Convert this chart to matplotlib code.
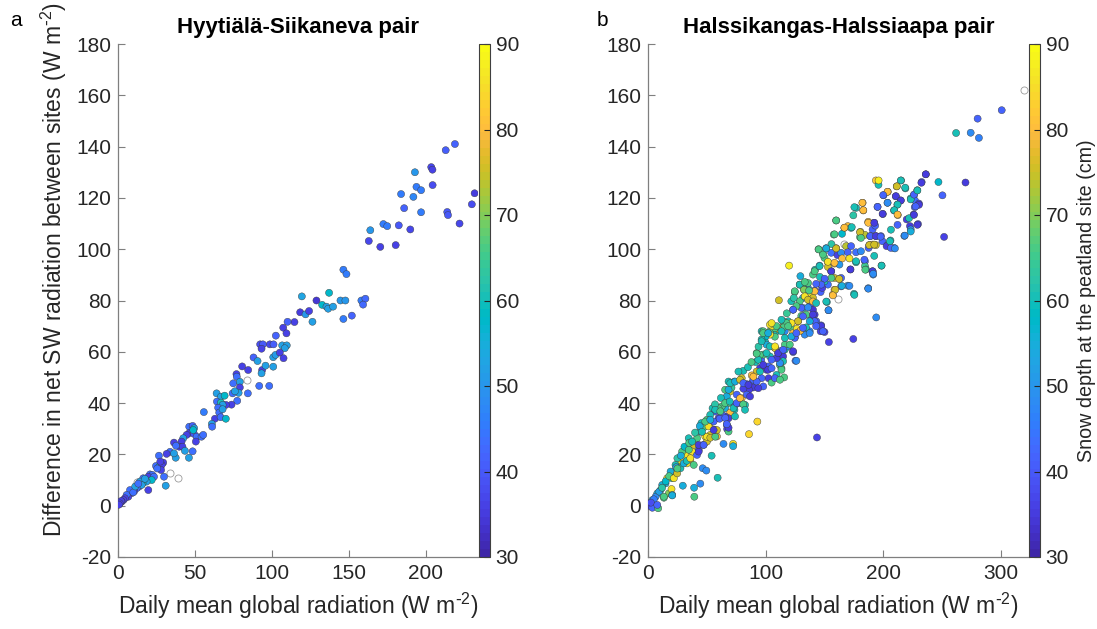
import numpy as np
import matplotlib
matplotlib.use("Agg")
import matplotlib.pyplot as plt
from matplotlib.colors import ListedColormap

plt.rcParams['font.family'] = ['Liberation Sans', 'DejaVu Sans']
plt.rcParams['axes.unicode_minus'] = False
plt.rcParams['mathtext.default'] = 'regular'

# parula-like colormap
parula = ListedColormap([
    [0.2422, 0.1504, 0.6603], [0.2504, 0.1650, 0.7076], [0.2578, 0.1818, 0.7511],
    [0.2647, 0.1978, 0.7952], [0.2706, 0.2147, 0.8364], [0.2751, 0.2342, 0.8710],
    [0.2783, 0.2559, 0.8991], [0.2803, 0.2782, 0.9221], [0.2813, 0.3006, 0.9414],
    [0.2810, 0.3228, 0.9579], [0.2795, 0.3447, 0.9717], [0.2760, 0.3667, 0.9829],
    [0.2699, 0.3892, 0.9906], [0.2602, 0.4123, 0.9952], [0.2440, 0.4358, 0.9988],
    [0.2206, 0.4603, 0.9973], [0.1963, 0.4847, 0.9892], [0.1834, 0.5074, 0.9798],
    [0.1786, 0.5289, 0.9682], [0.1764, 0.5499, 0.9520], [0.1687, 0.5703, 0.9359],
    [0.1540, 0.5902, 0.9218], [0.1460, 0.6091, 0.9079], [0.1380, 0.6276, 0.8973],
    [0.1248, 0.6459, 0.8883], [0.1113, 0.6635, 0.8763], [0.0952, 0.6798, 0.8598],
    [0.0689, 0.6948, 0.8394], [0.0297, 0.7082, 0.8163], [0.0036, 0.7203, 0.7917],
    [0.0067, 0.7312, 0.7660], [0.0433, 0.7411, 0.7394], [0.0964, 0.7500, 0.7120],
    [0.1408, 0.7584, 0.6842], [0.1717, 0.7670, 0.6554], [0.1938, 0.7758, 0.6251],
    [0.2161, 0.7843, 0.5923], [0.2470, 0.7918, 0.5567], [0.2906, 0.7973, 0.5188],
    [0.3406, 0.8008, 0.4789], [0.3909, 0.8029, 0.4354], [0.4456, 0.8024, 0.3909],
    [0.5044, 0.7993, 0.3480], [0.5616, 0.7942, 0.3045], [0.6174, 0.7876, 0.2612],
    [0.6720, 0.7793, 0.2227], [0.7242, 0.7698, 0.1910], [0.7738, 0.7598, 0.1646],
    [0.8203, 0.7498, 0.1535], [0.8634, 0.7406, 0.1596], [0.9035, 0.7330, 0.1774],
    [0.9393, 0.7288, 0.2100], [0.9728, 0.7298, 0.2394], [0.9956, 0.7434, 0.2371],
    [0.9970, 0.7659, 0.2199], [0.9952, 0.7893, 0.2028], [0.9892, 0.8136, 0.1885],
    [0.9786, 0.8386, 0.1766], [0.9676, 0.8639, 0.1643], [0.9610, 0.8890, 0.1537],
    [0.9597, 0.9135, 0.1423], [0.9628, 0.9373, 0.1265], [0.9691, 0.9606, 0.1064],
    [0.9769, 0.9839, 0.0805]])

# ---- panel a: Hyytiala-Siikaneva (x, y, snow depth) ----
hs_x = [219, 213, 203.6, 204.4, 193, 194, 197, 184, 192, 204.5, 231.8, 230, 186, 197, 214, 214.5, 222,
        164, 172.5, 175, 182.5, 190, 163, 170.5, 180.5, 146.5, 148.5, 137.2, 119.5, 129, 132.7, 135.5,
        136.6, 139.8, 144.6, 147.8, 146.5, 152, 158.2, 160.8, 159.3, 118.4, 121.9, 124.2, 126.4, 114.7,
        110.2, 107.4, 109.5, 102.6, 92.4, 94.2, 98.7, 101.1, 93.3, 106.7, 109.7, 108.4, 100.9, 102.4,
        105.2, 107.6, 88.1, 90.7, 80.7, 84.6, 77, 77.2, 93.7, 93.3, 95.9, 100.9, 74.9, 79.2, 79.2, 78.4,
        77.5, 84.4, 91.8, 98.3, 74.5, 76, 73.8, 70.1, 64.1, 66.9, 69.3, 64.3, 66.9, 68, 65.1, 65.8, 68,
        63, 66.7, 70.1, 61, 61.2, 55.8, 46.3, 48.5, 49.5, 46.3, 49.4, 48.9, 51.1, 50.6, 54.3, 55.4, 44.6,
        42.4, 41.3, 39.8, 41.9, 36.4, 37.7, 37.5, 33.8, 36.4, 43.5, 48.5, 46.1, 31.6, 29.4, 26.6, 24.7,
        26.8, 28.4, 28, 29.9, 31, 20.8, 22.3, 19.7, 23.4, 21.9, 16.4, 18.6, 16, 14.3, 13.6, 15.4, 19.7,
        12.1, 10.6, 8.9, 7.8, 6.7, 5.6, 4.5, 3.5, 2.4, 2, 9.9, 17.5, 25.5, 27.5, 11.2, 13.2, 1.2, 0.6]
hs_y = [141, 138.6, 132, 131, 130, 124.3, 123, 121.5, 120.4, 125, 121.8, 117.5, 116, 114.4, 114.5, 113.3, 110,
        107.4, 109.8, 109, 109.3, 107.7, 103.2, 100.9, 101.6, 92, 90.3, 83, 81.6, 80, 78.3, 77.6,
        76.8, 77.6, 80, 80, 72.8, 74.1, 80, 80.7, 78.4, 75.4, 74.6, 75.9, 71.7, 71.6,
        71.7, 69.4, 67.2, 66.3, 62.9, 62.9, 62.9, 62.9, 61.2, 62.5, 62.5, 61.4, 57.9, 58.8,
        59.7, 57.5, 57.8, 56.4, 54.3, 52.9, 51.3, 50.3, 52.9, 51.6, 54.6, 54.2, 47.7, 48.3, 46.1, 44,
        40.9, 43.8, 46.7, 46.7, 43.8, 44.6, 39.4, 39.3, 43.8, 42.5, 42.9, 40.6, 40.2, 39.3, 38.2, 36.3, 37.6,
        33.9, 34.5, 33.9, 31.9, 30.8, 36.5, 30.8, 31.1, 30.2, 28.3, 28, 29.5, 26.9, 25, 26.9, 27.6, 27.6,
        26.3, 25, 23, 23, 24.6, 23.4, 18.7, 21, 20.4, 21.4, 21.2, 18.7, 20.2, 16.8, 19.5, 15.5,
        15.2, 15.9, 13.9, 11.3, 7.8, 12.2, 12, 11.3, 11.3, 10, 10.7, 9.4, 8.7, 9.4, 7.4, 8.1, 6.1,
        6.8, 5.7, 4.9, 6.1, 3.5, 4.2, 2.9, 2.2, 1.6, 1.8, 5.2, 10.5, 14.5, 17.2, 7.5, 8.6, 0.9, 0.4]
hs_snow = [42, 41, 37, 36, 50, 45, 45, 45, 47, 38, 35, 38, 42, 45, 40, 40, 37,
           50, 45, 45, 40, 37, 37, 36, 36, 45, 45, 58, 53, 34, 58, 52,
           52, 52, 50, 50, 45, 42, 45, 43, 43, 35, 50, 36, 52, 36,
           42, 36, 36, 42, 38, 40, 37, 41, 36, 52, 52, 52, 52, 51,
           36, 36, 42, 52, 36, 36, 36, 44, 36, 52, 52, 52, 44, 52, 36, 52,
           44, 44, 44, 44, 44, 52, 36, 36, 52, 52, 58, 44, 60, 52, 44, 44, 52,
           36, 44, 58, 52, 44, 45, 44, 42, 52, 36, 40, 58, 44, 36, 44, 44, 36,
           52, 36, 36, 36, 36, 44, 52, 44, 52, 52, 44, 52, 36, 36, 44, 44,
           58, 36, 36, 44, 52, 44, 44, 36, 44, 58, 44, 52, 58, 52, 44, 52, 36,
           44, 36, 36, 44, 36, 44, 36, 36, 36, 36, 44, 52, 44, 36, 52, 44, 36, 36]
# days without snow-depth record (hollow markers)
hs_nan_x = [33.8, 39.2, 83.6, 12.5]
hs_nan_y = [12.6, 10.8, 49.0, 9.1]

# ---- panel b: Halssikangas-Halssiaapa (x, y, snow depth) ----
ha_pts = [
    (300.8, 154.2, 42), (280.3, 150.9, 42), (262, 145.3, 60), (274.4, 145.4, 48), (281.4, 143.4, 46),
    (236.3, 129.2, 40), (232.7, 126.2, 42), (247, 126.2, 58), (270, 126, 35), (250.4, 121, 42),
    (251.8, 104.8, 36), (193.8, 126.8, 82), (196, 125.1, 60), (215.2, 126.8, 60), (211.5, 124.5, 75),
    (218.9, 123.7, 60), (203.9, 122.4, 80), (229, 123, 62), (200.3, 121, 42), (210.7, 120.6, 40),
    (214.9, 119, 36), (203.7, 118.1, 48), (212.1, 117.4, 60), (223.4, 119.8, 60), (226.2, 121.1, 48),
    (227, 119, 44), (230.4, 117.8, 37), (226.8, 116.4, 42), (195.2, 116.5, 42), (182.5, 118.1, 80),
    (183.1, 115.1, 78), (176.9, 116.1, 60), (174.6, 113.2, 62), (199.7, 113.7, 40), (209.2, 115.1, 60),
    (212.4, 113.3, 78), (225.9, 113.5, 36), (220, 111.6, 36), (222.8, 109, 35), (223.4, 107.7, 48),
    (229.6, 109.8, 38), (218, 105.2, 48), (160, 111.2, 65), (187.3, 110.7, 78), (192.4, 110.3, 36),
    (167, 108.3, 80), (169.9, 109, 78), (172.7, 108.3, 60), (191, 107.7, 42), (193.2, 109.2, 42),
    (180.6, 106.8, 74), (184.5, 105.6, 74), (180.3, 104.7, 66), (189, 105.1, 44), (193.8, 105.1, 37),
    (198.1, 105.1, 42), (199.4, 103.1, 42), (206.2, 103.4, 60), (203.7, 101.6, 42), (209.3, 100.5, 45),
    (188.2, 101.6, 76), (191, 101.8, 78), (193.8, 101.6, 75), (192.4, 97.4, 60), (187.6, 100.5, 42),
    (158, 105.7, 66), (168.5, 101.2, 74), (160, 100.4, 78), (145, 100, 66), (151.5, 100.4, 48),
    (148.7, 98.6, 66), (150.1, 96.6, 66), (155.8, 98.6, 44), (161.1, 97.7, 36), (164.2, 98.6, 48),
    (172.7, 101.2, 42), (169.9, 98.8, 42), (176.9, 98.8, 44), (181.1, 99.2, 48), (165.1, 96.4, 80),
    (171.3, 96.4, 86), (176.9, 94.9, 60), (184.5, 95.3, 42), (153, 94.9, 80), (158.6, 94.4, 80),
    (162.8, 94, 50), (155.8, 91.4, 34), (153, 93.1, 75), (145.9, 93.6, 48), (140.3, 90.1, 66),
    (146.2, 89.2, 60), (129.6, 89.5, 55), (120, 93.6, 88), (172.1, 92.1, 34), (184.5, 93.4, 65),
    (185.4, 92.1, 60), (191, 91.4, 44), (191.5, 90.1, 48), (198.6, 93.6, 58), (187.3, 84.8, 48),
    (194.1, 73.4, 48), (174.6, 65, 36), (153.8, 63.8, 36), (143.7, 26.6, 36), (175.2, 82.6, 60),
    (169.9, 85.8, 50), (164.2, 85.5, 44), (153, 86.2, 44), (150.1, 87.5, 60), (158.6, 88.8, 75),
    (162.8, 88.4, 75), (158.6, 84.2, 80), (157.2, 82.3, 80), (152.1, 79.4, 60), (153.5, 76.2, 44),
    (141.7, 83.9, 42), (146.8, 83.3, 42), (148.2, 84.9, 36), (136, 84.9, 48), (132.7, 84.2, 80),
    (131.8, 86.2, 60), (129, 86.2, 66), (124.8, 83.3, 66), (138.9, 82.6, 86), (140.3, 81, 75),
    (137.5, 79.7, 75), (131.8, 81, 55), (129, 79.7, 66), (121.9, 79.7, 60), (111.3, 80.1, 75),
    (123.4, 76.4, 42), (131.8, 77.1, 55), (137.5, 77.7, 42), (140.3, 76.4, 34), (141.7, 74.5, 35),
    (138.9, 72.5, 35), (143.1, 71.9, 42), (147.3, 70.3, 42), (150.1, 67.7, 36), (146.8, 68, 36),
    (137.5, 68, 48), (131.8, 68, 75), (127.6, 71.9, 80), (130.4, 74, 66), (134.6, 74.5, 66),
    (126.2, 68, 55), (124.8, 65.6, 42), (119.2, 71.9, 60), (122, 69.3, 66), (114.9, 71.9, 66),
    (113.5, 69.3, 75), (116.3, 68, 48), (109.3, 68, 60), (105.1, 70.6, 66), (103.7, 68, 68),
    (107.9, 65.9, 66), (103.7, 66.7, 86), (99.4, 64.1, 60), (96.6, 68, 60), (107.9, 61.5, 80),
    (112.1, 60.2, 42), (116.3, 60.8, 60), (119.2, 62.1, 48), (123.4, 59.9, 42), (125.4, 56.5, 44),
    (114.9, 58.2, 35), (110.7, 59.5, 35), (114.9, 56.3, 60), (112.1, 54.9, 66), (113.5, 53.6, 66),
    (115.8, 50, 66), (109.3, 51, 60), (102.5, 54.3, 42), (96.3, 56.9, 42), (103.7, 58.2, 60),
    (98, 58.9, 66), (92.4, 59.5, 66), (91.5, 56, 60), (95.2, 53.6, 35), (100.8, 53, 36),
    (102.5, 49.7, 35), (105.1, 48, 66), (98, 46.5, 42), (96.6, 49.7, 42), (92.4, 52.3, 75),
    (88.2, 50.8, 80), (81.1, 52.6, 60), (76.9, 52.3, 60), (73.5, 48.4, 55), (79.7, 49.7, 75),
    (83.9, 47.4, 42), (88.2, 47.8, 42), (89.6, 46.1, 35), (85.9, 45.2, 35), (81.1, 45.6, 36),
    (68.5, 48.4, 60), (65.6, 45.2, 66), (69.9, 44.5, 75), (67, 42.6, 55), (75.5, 43.3, 42),
    (79.7, 41.9, 80), (78.3, 40, 42), (74, 39.3, 42), (82.5, 39.3, 60), (73.5, 37.4, 60),
    (68.5, 40, 66), (65.6, 38, 55), (62.8, 38.7, 66), (60, 38, 66), (54.9, 38, 60),
    (57.2, 36.7, 42), (69.9, 36.3, 80), (68.5, 34.1, 35), (65.6, 34.8, 35), (67, 31.5, 44),
    (67.3, 29.9, 36), (68.5, 28.9, 66), (74, 34.8, 60), (62.8, 35.5, 42), (60, 34.1, 35),
    (52.9, 35.4, 60), (50.1, 33.5, 66), (52.9, 32.2, 75), (55.8, 32.8, 42), (45.4, 32.2, 60),
    (47.3, 30.5, 66), (51.5, 30.9, 86), (58.6, 27, 80), (56.6, 29.6, 35), (52.9, 27.6, 75),
    (48.7, 27, 86), (44.5, 28.9, 60), (41.7, 26.3, 66), (34.6, 26.3, 60), (38.9, 23.7, 75),
    (47.3, 23.7, 42), (50.1, 25, 75), (43.1, 21.7, 42), (37.5, 21.1, 86), (33.2, 22.4, 60),
    (31.8, 19.8, 86), (29, 21.1, 66), (36, 17.8, 80), (33.2, 16.5, 86), (27.6, 17.2, 86),
    (26.2, 15.2, 75), (23.4, 15.9, 60), (22.8, 13.3, 86), (19.2, 13.3, 55), (20.6, 10.7, 60),
    (16.3, 10.7, 86), (14.9, 8.7, 55), (12.1, 8.1, 55), (10.7, 6.1, 60), (7.9, 4.8, 55),
    (6.5, 3.5, 48), (3.7, 2.2, 55), (1.4, 0.9, 33), (0.3, 0, 32), (3.7, -0.8, 42),
    (8.7, -1, 66), (17.7, 4.8, 70), (20, 6.5, 86), (29.6, 7.8, 55), (20.6, 4.2, 55),
    (13.5, 3.1, 66), (39.2, 7, 55), (39.4, 3.5, 66), (44.5, 8.6, 48), (46.5, 14.6, 48),
    (49.6, 13.7, 48), (59.2, 10.9, 60), (54.1, 19.5, 60), (64.2, 24.1, 48), (72.4, 24.1, 86),
    (72.4, 23.2, 55), (85.9, 27.9, 84), (93, 32.8, 84), (25, 18.5, 62), (28, 19.5, 55),
    (31, 23, 58), (35, 24.5, 66), (40, 28.5, 62), (44, 31, 55), (9.5, 5.5, 52), (5, 2.5, 45),
    (2.5, 1.2, 38), (12, 7, 62), (15, 9.5, 58), (18, 11.5, 66), (24, 15, 52), (57, 39.5, 62),
    (62, 42, 60), (71, 46, 64), (85, 54, 60), (88, 56, 66), (94, 62, 62), (100, 66, 58),
    (118, 75, 64), (124, 81, 62), (134, 87, 66), (142, 92, 60), (156, 102, 62), (165, 106, 58),
    # second reading of the dense band
    (124.8, 83.6, 66), (129, 86.2, 60), (132.7, 84.2, 70), (136.1, 86.8, 66), (141.7, 91.4, 66),
    (145.9, 93.4, 60), (145.1, 99.9, 66), (148.8, 97.9, 66), (151.6, 100.3, 55), (153, 95.1, 86),
    (158.6, 94.7, 80), (155.8, 91.4, 35), (160, 100.3, 75), (158.6, 105.8, 66), (160, 111.2, 66),
    (167, 108.4, 80), (173.3, 108.6, 60), (175.5, 116.4, 60), (182.3, 118.1, 80), (183.1, 115.2, 80),
    (187.3, 110.3, 80), (192.4, 110.3, 35), (180.3, 106.6, 75), (181.1, 104.4, 66), (189, 105.1, 42),
    (193.8, 105.1, 35), (188.2, 101.6, 75), (192.4, 101.8, 75), (197.8, 104.9, 42), (202.9, 101.2, 35),
    (206.6, 100.5, 42), (210, 100.3, 48), (205.7, 103.1, 60), (206.6, 107.6, 60), (212.2, 109.5, 42),
    (218.3, 105.3, 48), (223.4, 106.9, 55), (222, 112.1, 60), (229.1, 109.5, 35), (226.2, 113.4, 35),
    (230.4, 117.3, 35), (227.6, 116.7, 42), (223.4, 119.4, 60), (226.2, 121.3, 42), (229.1, 122.9, 60),
    (232.5, 125.9, 35), (236.2, 129.2, 35), (215, 126.8, 60), (218.7, 124, 60), (211.6, 124.5, 75),
    (203.7, 122.4, 80), (200, 121.1, 42), (210.8, 120.7, 35), (215, 119, 35), (212.2, 117.4, 60),
    (209.4, 115.2, 60), (212.2, 113.5, 80), (203.7, 118.1, 48), (195.2, 116.5, 42), (199.5, 113.8, 35),
    (196.1, 126.8, 88), (176.9, 95.3, 60), (184, 95.9, 42), (184.8, 92, 66), (191, 91.4, 35),
    (191.5, 90.4, 48), (198.6, 93.6, 60), (187.3, 84.6, 48), (172.2, 92.1, 35), (175.5, 82.2, 60),
    (171.3, 85.7, 48), (164.8, 85.7, 55), (159.2, 84.2, 75), (157.2, 82, 80), (153.5, 76.2, 48),
    (151.6, 79.6, 60), (164.2, 88.8, 42), (162.6, 88.4, 75), (156, 88.8, 66), (150.2, 88.5, 42),
    (147.3, 86.2, 42), (143, 86.5, 42), (141.7, 83.6, 80), (137, 83.9, 66), (133.3, 87.2, 66),
    (133.3, 81.6, 86), (136.1, 80.3, 75), (140.3, 79.6, 80), (143, 79, 60), (136.1, 77.3, 48),
    (130.4, 77.1, 42), (126.2, 77.8, 66), (123.4, 76.4, 42), (140.3, 74.5, 35), (141.7, 71.9, 42),
    (147.3, 70, 35), (148.8, 68, 42), (137.5, 71.9, 55), (131.8, 73.8, 42), (127.6, 71.9, 75),
    (122, 71.2, 86), (117.8, 71.2, 66), (113.5, 72.5, 60), (115, 69.5, 66), (111, 68.8, 75),
    (108, 69.2, 66), (105.5, 70, 86), (103.7, 70.6, 86), (98.1, 68, 66), (96.6, 64.8, 60),
    (100.8, 62.8, 55), (108, 61.5, 86), (116.4, 62.8, 66), (124.8, 65.4, 42), (133.3, 66.7, 48),
    (134.5, 69.5, 60), (123.4, 67.3, 80), (126.6, 69, 86), (129.5, 68.2, 80),
    (20.6, 4, 55), (13.5, 3.5, 66), (7.9, 0.3, 42), (22, 10.7, 86), (24.8, 12.6, 75),
    (27.6, 14.6, 60), (25, 14.5, 66), (30.4, 16.5, 55), (33, 17.5, 60), (36, 18.5, 86),
    (38.9, 15.9, 66), (41.7, 19.8, 42), (43.1, 21.1, 35), (34.7, 21.8, 66), (37.5, 25, 60),
    (43.1, 23.7, 35), (47.3, 23.7, 42), (50.1, 26.9, 86), (53, 26.5, 75), (57.2, 26.9, 66),
    (58.6, 29.5, 75), (45.9, 28.8, 60), (48.7, 32.8, 66), (53, 33.5, 55), (55.8, 29.5, 35),
    (60.9, 33.9, 42), (65.7, 34.2, 42), (68.5, 30.4, 35), (67, 31.8, 42), (57.2, 37.4, 60),
    (61.5, 36.8, 66), (65.6, 40, 66), (69.5, 40.6, 60), (72.7, 38, 60), (75.5, 40, 42),
    (78.3, 41.9, 80), (81, 39.5, 66), (82.5, 37.4, 60), (68.5, 45.2, 55), (70, 47.8, 60),
    (74.1, 48.4, 55), (78.3, 49.1, 75), (81.1, 47.8, 42), (85.4, 47.1, 35), (89.6, 49.1, 42),
    (92.4, 48.4, 42), (93.8, 45.8, 35), (84, 43.3, 42), (86.8, 42.6, 35), (89.6, 50.3, 80),
    (95.2, 52.3, 60), (98, 54.9, 35), (102.2, 53, 35), (105.1, 53.6, 42), (108, 49.7, 42),
    (112.2, 49.1, 66), (113.5, 53, 66), (112.2, 55.6, 48), (109.3, 57.5, 35), (105.1, 56.9, 42),
    (95.2, 58.8, 66), (93.8, 56.9, 60), (100.8, 59.5, 60), (103.7, 62.1, 60), (92.4, 59.3, 66),
    (96.6, 64.1, 60), (98, 67.3, 66), (102.2, 67.3, 55), (108, 62.1, 86), (110.7, 59.5, 35),
    (115, 60.8, 42), (120.6, 62.8, 66), (123.4, 60.2, 35), (126.2, 56.5, 48), (116.4, 65.4, 60),
    (122, 66, 55), (126.2, 67.3, 42), (131.8, 69.3, 42), (137.5, 67.3, 48), (143, 70, 42),
    (119.2, 70, 66), (109.3, 70, 66), (105.1, 71.2, 86), (113.5, 68, 60),
]
ha_x = [p[0] for p in ha_pts]
ha_y = [p[1] for p in ha_pts]
ha_snow = [p[2] for p in ha_pts]
ha_nan_x = [320, 166.5, 161.7]
ha_nan_y = [162, 102.2, 80.7]

fig = plt.figure(figsize=(10.97, 6.29), dpi=100)
W, H = 1097, 629

def px_box(l, t, r, b):
    return [l / W, 1 - b / H, (r - l) / W, (b - t) / H]

ax1 = fig.add_axes(px_box(118, 44, 478, 557))
cax1 = fig.add_axes(px_box(479, 44, 490, 557))
ax2 = fig.add_axes(px_box(648, 44, 1029, 557))
cax2 = fig.add_axes(px_box(1029, 44, 1040, 557))

tick_col = '#262626'
spine_col = '#7f7f7f'
unit = r'(W m$^{\text{-}2}$)'

def style_axes(ax, xmax, xticks):
    ax.set_xlim(0, xmax)
    ax.set_ylim(-20, 180)
    ax.set_xticks(xticks)
    ax.set_yticks(range(-20, 181, 20))
    for s in ['top', 'right']:
        ax.spines[s].set_visible(False)
    for s in ['left', 'bottom']:
        ax.spines[s].set_color(spine_col)
        ax.spines[s].set_linewidth(0.9)
    ax.tick_params(direction='in', length=5, width=0.8, color=spine_col,
                   labelcolor=tick_col, labelsize=15, pad=5)
    ax.set_xlabel('Daily mean global radiation ' + unit, fontsize=16.5, color=tick_col, labelpad=6)

def style_cbar(cb):
    cb.set_ticks([30, 40, 50, 60, 70, 80, 90])
    cb.outline.set_linewidth(0.8)
    cb.outline.set_edgecolor('#404040')
    cb.ax.tick_params(direction='in', length=4, width=0.8, color='#262626',
                      labelcolor=tick_col, labelsize=15, pad=4)

sc1 = ax1.scatter(hs_x, hs_y, c=hs_snow, cmap=parula, vmin=30, vmax=90, s=26,
                  edgecolors='#3a3a3a', linewidths=0.3, zorder=3)
ax1.scatter(hs_nan_x, hs_nan_y, s=26, facecolors='white', edgecolors='#9a9a9a',
            linewidths=0.6, zorder=2)
style_axes(ax1, 234, [0, 50, 100, 150, 200])
ax1.set_ylabel('Difference in net SW radiation between sites ' + unit,
               fontsize=16.5, color=tick_col)
ax1.yaxis.set_label_coords(-0.137, 0.56)
ax1.set_title('Hyytiälä-Siikaneva pair', fontsize=16, fontweight='bold', pad=8)
cb1 = fig.colorbar(sc1, cax=cax1)
style_cbar(cb1)

sc2 = ax2.scatter(ha_x, ha_y, c=ha_snow, cmap=parula, vmin=30, vmax=90, s=26,
                  edgecolors='#3a3a3a', linewidths=0.3, zorder=3)
ax2.scatter(ha_nan_x, ha_nan_y, s=26, facecolors='white', edgecolors='#9a9a9a',
            linewidths=0.6, zorder=2)
style_axes(ax2, 324, [0, 100, 200, 300])
ax2.set_title('Halssikangas-Halssiaapa pair', fontsize=16, fontweight='bold', pad=8)
cb2 = fig.colorbar(sc2, cax=cax2)
style_cbar(cb2)
cb2.set_label('Snow depth at the peatland site (cm)', fontsize=14.2, color=tick_col, labelpad=6)

fig.text(10 / W, 1 - 20 / H, 'a', fontsize=15, va='center', ha='left')
fig.text(597 / W, 1 - 20 / H, 'b', fontsize=15, va='center', ha='left')

fig.savefig('out.png', dpi=100)
